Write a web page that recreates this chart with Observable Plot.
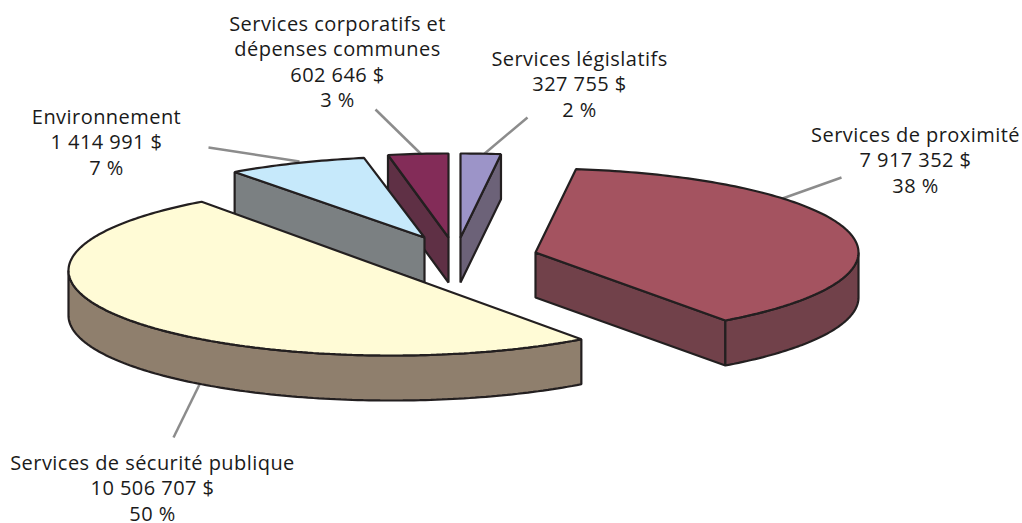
<!DOCTYPE html>
<html lang="fr">
<head>
<meta charset="utf-8">
<style>html,body{margin:0;padding:0;background:#fff}svg{display:block}</style>
<script src="https://cdn.jsdelivr.net/npm/d3@7"></script>
<script src="https://cdn.jsdelivr.net/npm/@observablehq/plot@0.6"></script>
</head>
<body>
<script>
// Data, clockwise from twelve o'clock
const categories = ["Services législatifs", "Services de proximité", "Services de sécurité publique", "Environnement", "Services corporatifs et\ndépenses communes"];
const amounts = ["327 755", "7 917 352", "10 506 707", "1 414 991", "602 646"];
const percents = [2, 38, 50, 7, 3];

// Styles
const topColors = ["#9C94C8", "#A45360", "#FFFBD6", "#C6E9FB", "#832C58"];
const sideColors = ["#6C6278", "#71414A", "#8F7F6D", "#7B8082", "#5F3045"];
const outline = "#231F20";
const leaderColor = "#8C8C8C";

// Layout of the exploded 3D pie (pixel-valued x/y scales)
const radiusX = 323, depth = 45;
const centerX = [460, 535, 391, 424, 448];
const centerY = [237, 252, 270, 237, 237];
const radiusY = [84, 84, 85, 81, 84];
const paintOrder = [4, 0, 3, 2, 1];
const labelX = [579, 915, 152, 106, 337];
const labelY = [47, 123, 451, 105, 12];
const leaderFrom = [[483, 154], [782, 198], [199, 384], [299, 161], [421, 154]];
const leaderTo = [[527, 117], [841, 177], [173, 437], [208, 147], [375, 109]];

const rad = Math.PI / 180;
const shapes = [];
let angle = 90;
const slices = percents.map((p) => {
  const start = angle, end = angle - p * 3.6;
  angle = end;
  return {start, end};
});

function addShape(points, fill) {
  const id = shapes.length ? shapes[shapes.length - 1].id + 1 : 0;
  for (const [x, y] of points) shapes.push({id, x, y, fill});
}

for (const i of paintOrder) {
  const {start, end} = slices[i];
  const cx = centerX[i], cy = centerY[i], ry = radiusY[i];
  const rim = (t, d = 0) => [cx + radiusX * Math.cos(t * rad), cy - ry * Math.sin(t * rad) + d];
  const arc = (a, b, d = 0) => {
    const n = Math.max(2, Math.ceil(Math.abs(a - b)));
    return d3.range(n + 1).map(k => rim(a + (b - a) * k / n, d));
  };
  const face = t => [[cx, cy], rim(t), rim(t, depth), [cx, cy + depth]];

  // radial wall whose outward normal faces the viewer
  if (Math.sin((start + 90) * rad) < -1e-6) addShape(face(start), sideColors[i]);
  if (Math.sin((end - 90) * rad) < -1e-6) addShape(face(end), sideColors[i]);

  // outer wall: the part of the rim on the front half of the ellipse
  const frontA = Math.min(start, 0), frontB = Math.max(end, -180);
  if (frontA > frontB) addShape([...arc(frontA, frontB), ...arc(frontB, frontA, depth)], sideColors[i]);

  // top face
  addShape([[cx, cy], ...arc(start, end)], topColors[i]);
}

const labels = categories.map((c, i) => ({
  x: labelX[i], y: labelY[i],
  text: `${c}\n${amounts[i]} $\n${percents[i]} %`
}));
const leaders = leaderFrom.map((a, i) => ({x1: a[0], y1: a[1], x2: leaderTo[i][0], y2: leaderTo[i][1]}));

const chart = Plot.plot({
  width: 1022,
  height: 523,
  margin: 0,
  style: {letterSpacing: "0.45px"},
  x: {domain: [0, 1022], range: [0, 1022], axis: null},
  y: {domain: [0, 523], range: [0, 523], axis: null},
  marks: [
    Plot.link(leaders, {x1: "x1", y1: "y1", x2: "x2", y2: "y2", stroke: leaderColor, strokeWidth: 2.5}),
    Plot.line(shapes, {x: "x", y: "y", z: "id", fill: "fill", stroke: outline, strokeWidth: 2.2, curve: "linear-closed", strokeLinejoin: "miter"}),
    Plot.text(labels, {x: "x", y: "y", text: "text", lineAnchor: "top", lineHeight: 1.275, fontSize: 20, fontFamily: "'Open Sans', sans-serif", fill: "#1a1a1a"})
  ]
});
document.body.appendChild(chart);
</script>
</body>
</html>
